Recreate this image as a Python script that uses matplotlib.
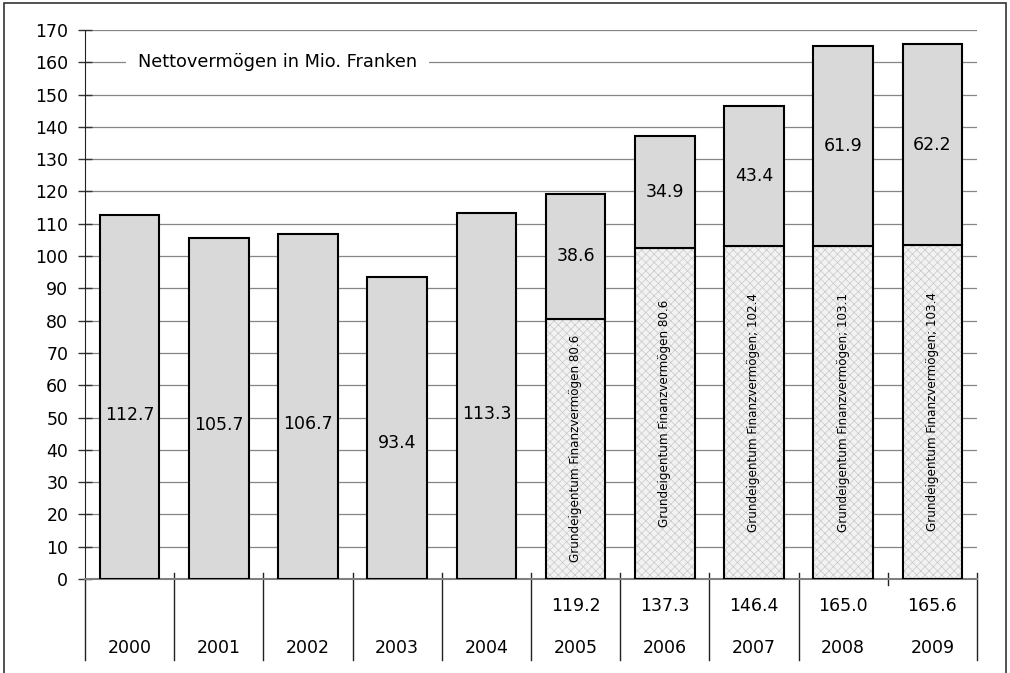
import matplotlib.pyplot as plt
import matplotlib.transforms as mtransforms
from matplotlib.patches import Rectangle

plt.rcParams['font.family'] = ['DejaVu Sans']
plt.rcParams['hatch.linewidth'] = 0.5

years = ['2000', '2001', '2002', '2003', '2004', '2005', '2006', '2007', '2008', '2009']
# Nettovermoegen total (Mio. Franken)
totals = [112.7, 105.7, 106.7, 93.4, 113.3, 119.2, 137.3, 146.4, 165.0, 165.6]
# split available from 2005: Grundeigentum Finanzvermoegen + rest
ground = [0, 0, 0, 0, 0, 80.6, 102.4, 103.0, 103.1, 103.4]
ground_labels = ['', '', '', '', '',
                 'Grundeigentum Finanzvermögen 80.6',
                 'Grundeigentum Finanzvermögen 80.6',
                 'Grundeigentum Finanzvermögen; 102.4',
                 'Grundeigentum Finanzvermögen; 103.1',
                 'Grundeigentum Finanzvermögen; 103.4']
rest = [t - g for t, g in zip(totals, ground)]
rest_labels = ['112.7', '105.7', '106.7', '93.4', '113.3', '38.6', '34.9', '43.4', '61.9', '62.2']

fig = plt.figure(figsize=(10.1, 6.73), dpi=100)
ax = fig.add_axes([85 / 1010, 94 / 673, 892 / 1010, 549 / 673])

x = list(range(len(years)))
w = 0.67

# hatched lower part (two layers so the hatch stays light grey)
ax.bar(x, ground, width=w, color='#f2f2f2', edgecolor='#c8c8c8', linewidth=0,
       hatch='xxxx', zorder=2)
ax.bar(x, ground, width=w, fill=False, edgecolor='black', linewidth=1.5, zorder=3)
# grey upper part
ax.bar(x, rest, width=w, bottom=ground, color='#d9d9d9', edgecolor='black',
       linewidth=1.5, zorder=3)

for i in x:
    if ground[i] > 0:
        ax.text(i, ground[i] + rest[i] / 2, rest_labels[i], ha='center', va='center',
                fontsize=12.5, zorder=4)
        ax.text(i, ground[i] / 2, ground_labels[i], rotation=90, ha='center', va='center',
                fontsize=9.5, family=['Liberation Sans Narrow', 'DejaVu Sans'],
                stretch='condensed', zorder=4)
    else:
        ax.text(i, totals[i] * 0.45, rest_labels[i], ha='center', va='center',
                fontsize=12.5, zorder=4)

ax.set_xlim(-0.5, len(years) - 0.5)
ax.set_ylim(0, 170)
ax.set_yticks(range(0, 171, 10))
ax.tick_params(axis='y', direction='inout', length=10, width=1, color='#333333',
               labelsize=12.5, pad=7)
ax.set_xticks([])
ax.yaxis.grid(True, color='#858585', linewidth=0.9)
ax.set_axisbelow(True)
for s in ['top', 'right']:
    ax.spines[s].set_visible(False)
ax.spines['left'].set_color('#222222')
ax.spines['bottom'].set_color('#808080')
ax.spines['bottom'].set_linewidth(1.5)

# category table below the axis
trans = mtransforms.blended_transform_factory(ax.transData, ax.transAxes)
ax.plot([-0.5, -0.5], [0, -0.1475], transform=trans, color='#222222', lw=1, clip_on=False)
for k in range(1, len(years) + 1):
    b = k - 0.5
    low = -0.011 if k == 9 else -0.1475
    ax.plot([b, b], [0.011, low], transform=trans, color='#222222', lw=1, clip_on=False)
for i in x:
    ax.text(i, -0.126, years[i], transform=trans, ha='center', va='center', fontsize=12.5)
    if ground[i] > 0:
        ax.text(i, -0.049, f'{totals[i]:.1f}', transform=trans, ha='center', va='center',
                fontsize=12.5)

title_tr = mtransforms.blended_transform_factory(ax.transAxes, ax.transData)
ax.text(53 / 892, 160, 'Nettovermögen in Mio. Franken', transform=title_tr, ha='left',
        va='center', fontsize=12.8, zorder=5,
        bbox=dict(boxstyle='square,pad=0.65', facecolor='white', edgecolor='none'))

# outer frame
fig.patches.append(Rectangle((4 / 1010, -0.01), 1002 / 1010, 1 - 3 / 673 + 0.01,
                             transform=fig.transFigure, fill=False,
                             edgecolor='#333333', linewidth=1.2))

fig.savefig('out.png', dpi=100)
